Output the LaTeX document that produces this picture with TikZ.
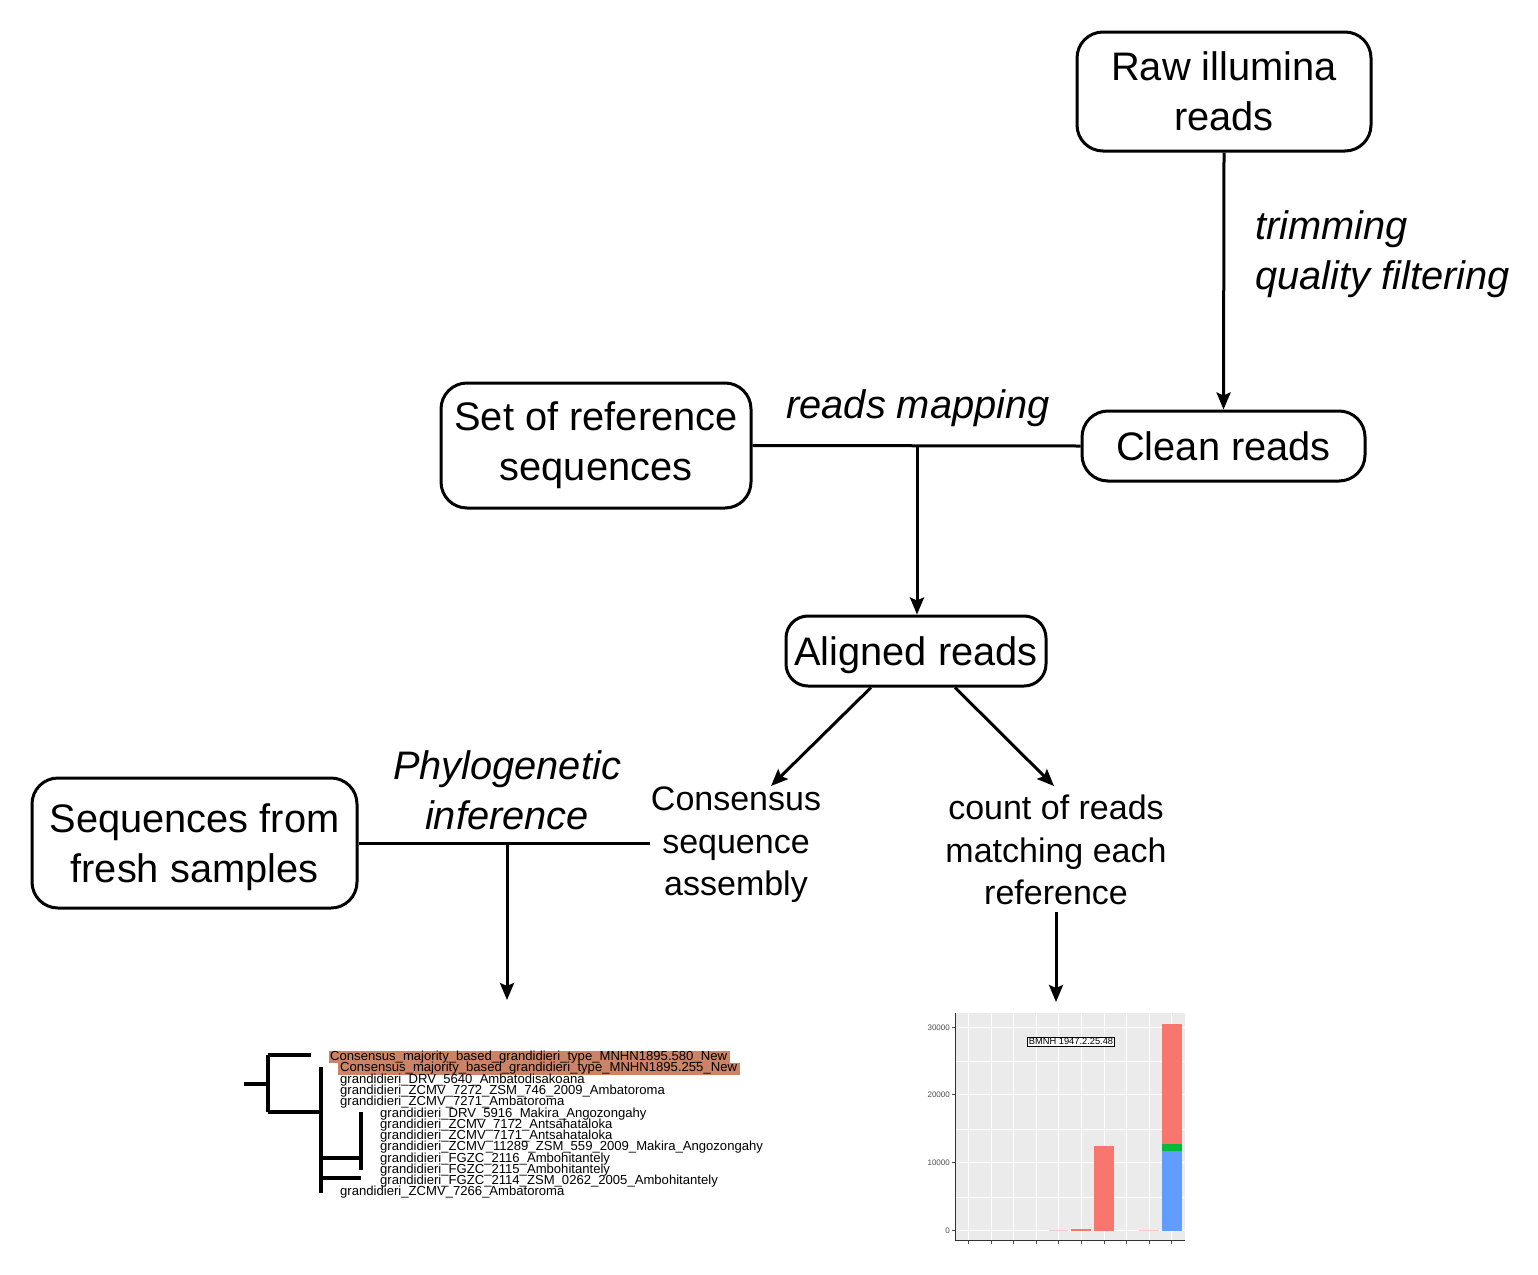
\documentclass[tikz,border=0pt]{standalone}
\usepackage{fontspec}
\setmainfont{Liberation Sans}
\usetikzlibrary{arrows.meta}
\newcommand\bigfnt{\fontsize{39.8}{50}\selectfont}
\newcommand\midfnt{\fontsize{34}{42.5}\selectfont}
\newcommand\treefnt{\fontsize{13.1}{11.27}\selectfont}
\definecolor{hl}{RGB}{205,131,101}
\definecolor{ggred}{HTML}{F8766D}
\definecolor{gggreen}{HTML}{00BA38}
\definecolor{ggblue}{HTML}{619CFF}
\definecolor{panel}{HTML}{EBEBEB}
\begin{document}
\begin{tikzpicture}[x=1pt,y=-1pt,
  box/.style={draw,line width=3pt,rounded corners=26pt,align=center,font=\bigfnt,inner sep=0pt},
  lbl/.style={align=center,inner sep=1pt},
  conn/.style={line width=3pt},
  arr/.style={line width=3pt,-{Stealth[length=17pt,width=14pt,inset=3pt]}},
  tl/.style={anchor=base west,inner sep=0pt,font=\treefnt},
  tree/.style={line width=3.2pt},
  grid/.style={white,line width=0.8pt},
  gridminor/.style={white,line width=0.4pt},
  tick/.style={anchor=east,inner sep=0pt,font=\fontsize{8}{8}\selectfont,text=black!70}]
\useasboundingbox (0,0) rectangle (1538,1274);

% boxes
\node[box,minimum width=294pt,minimum height=119pt] (raw) at (1224,91.5) {Raw illumina\\reads};
\node[box,minimum width=283pt,minimum height=70pt] (clean) at (1223.5,446) {Clean reads};
\node[box,minimum width=310pt,minimum height=125pt] (set) at (596,445.5) {Set of reference\\sequences};
\node[box,minimum width=260pt,minimum height=70pt,rounded corners=22pt,text depth=0pt] (aligned) at (916,651) {Aligned reads};
\node[box,minimum width=325pt,minimum height=130pt,text depth=0pt] (fresh) at (194.5,843) {Sequences from\\fresh samples};

% labels
\node[lbl,anchor=west,align=left,font=\bigfnt\itshape,inner sep=0pt] (trim) at (1255,254) {trimming\\quality filtering};
\node[lbl,font=\bigfnt\itshape] (map) at (918,408) {reads mapping};
\node[lbl,font=\bigfnt\itshape] (phylo) at (507,790) {Phylogenetic\\inference};
\node[lbl,font=\midfnt,text depth=0pt] (cons) at (736,841.5) {Consensus\\sequence\\assembly};
\node[lbl,font=\midfnt] (count) at (1056,850) {count of reads\\matching each\\reference};

% connectors
\draw[arr] (raw.south) -- (clean.north);
\draw[conn] (set.east) -- (clean.west);
\coordinate (mj) at (917,446);
\draw[arr] (mj) -- (aligned.north -| mj);
\coordinate (c1) at (771,786);
\coordinate (c2) at (1054,786);
\draw[arr] ([xshift=-45pt]aligned.south) -- (c1);
\draw[arr] ([xshift=39pt]aligned.south) -- (c2);
\draw[conn] (fresh.east) -- (cons.west |- fresh.east);
\coordinate (pj) at (507,843);
\coordinate (treetop) at (507,1000);
\draw[arr] (pj) -- (treetop);
\coordinate (charttop) at (1056,1002);
\draw[arr] (1056,912) -- (charttop);

% tree highlights
\fill[hl] (329,1051) rectangle (730,1062.5);
\fill[hl] (337.5,1062.5) rectangle (740,1075);
% tree lines
\draw[tree] (244,1084) -- (268,1084);
\draw[tree] (268,1055) -- (268,1112);
\draw[tree] (268,1055) -- (311,1055);
\draw[tree] (268,1112) -- (321,1112);
\draw[tree] (321,1067) -- (321,1193);
\draw[tree] (321,1158) -- (361,1158);
\draw[tree] (321,1178) -- (361,1178);
\draw[tree] (361,1112) -- (361,1170);
% tree labels
\node[tl] (t1) at (330,1060.7) {Consensus\_majority\_based\_grandidieri\_type\_MNHN1895.580\_New};
\node[tl] (t2) at (340,1071.97) {Consensus\_majority\_based\_grandidieri\_type\_MNHN1895.255\_New};
\node[tl] (t3) at (340,1083.24) {grandidieri\_DRV\_5640\_Ambatodisakoana};
\node[tl] (t4) at (340,1094.51) {grandidieri\_ZCMV\_7272\_ZSM\_746\_2009\_Ambatoroma};
\node[tl] (t5) at (340,1105.78) {grandidieri\_ZCMV\_7271\_Ambatoroma};
\node[tl] (t6) at (380,1117.05) {grandidieri\_DRV\_5916\_Makira\_Angozongahy};
\node[tl] (t7) at (380,1128.32) {grandidieri\_ZCMV\_7172\_Antsahataloka};
\node[tl] (t8) at (380,1139.59) {grandidieri\_ZCMV\_7171\_Antsahataloka};
\node[tl] (t9) at (380,1150.86) {grandidieri\_ZCMV\_11289\_ZSM\_559\_2009\_Makira\_Angozongahy};
\node[tl] (t10) at (380,1162.13) {grandidieri\_FGZC\_2116\_Ambohitantely};
\node[tl] (t11) at (380,1173.4) {grandidieri\_FGZC\_2115\_Ambohitantely};
\node[tl] (t12) at (380,1184.67) {grandidieri\_FGZC\_2114\_ZSM\_0262\_2005\_Ambohitantely};
\node[tl] (t13) at (340,1195.94) {grandidieri\_ZCMV\_7266\_Ambatoroma};

% chart
\fill[panel] (955,1013) rectangle (1185,1240);
\foreach \y in {1060.7,1128.7,1196.7} \draw[gridminor] (955,\y) -- (1185,\y);
\foreach \y in {1027.7,1094.7,1162.7,1230.7} \draw[grid] (955,\y) -- (1185,\y);
\foreach \x in {968.3,991,1013.6,1036.2,1058.8,1081.4,1104,1126.6,1149.2,1171.8} {
  \draw[grid] (\x,1013) -- (\x,1240);
  \draw[black!70,line width=0.8pt] (\x,1240) -- (\x,1243.5);
}
\fill[ggred!40] (1049,1230.1) rectangle (1068,1230.7);
\fill[ggred] (1071.4,1229.3) rectangle (1091.4,1230.7);
\fill[ggred] (1094,1145.7) rectangle (1114,1230.7);
\fill[ggred!40] (1139.2,1230.1) rectangle (1159.2,1230.7);
\fill[ggblue] (1161.8,1150.7) rectangle (1181.8,1230.7);
\fill[gggreen] (1161.8,1143.7) rectangle (1181.8,1150.7);
\fill[ggred] (1161.8,1024.3) rectangle (1181.8,1143.7);
\draw[black!80,line width=1pt] (955,1013) -- (955,1240) -- (1185,1240);
\foreach \y/\v in {1027.7/30000,1094.7/20000,1162.7/10000,1230.7/0} {
  \draw[black!70,line width=0.8pt] (952,\y) -- (955,\y);
  \node[tick] at (950,\y) {\v};
}
\node[draw,fill=white,line width=0.7pt,inner sep=1.5pt,font=\fontsize{9.3}{9}\selectfont] (bmnh) at (1071,1041.7) {BMNH 1947.2.25.48};
\end{tikzpicture}
\end{document}
